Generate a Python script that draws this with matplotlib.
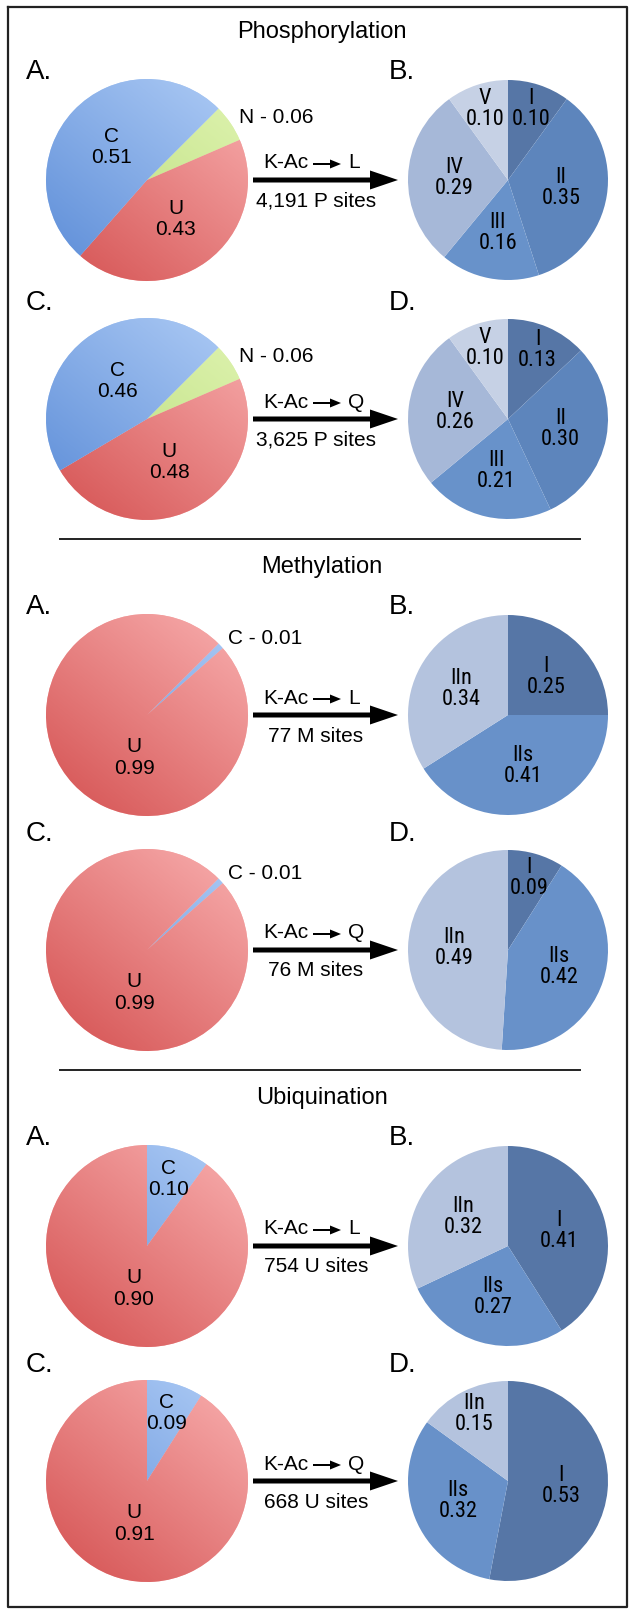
import numpy as np
import matplotlib
matplotlib.use('Agg')
import matplotlib.pyplot as plt
from matplotlib import font_manager
from matplotlib.colors import LinearSegmentedColormap

W, H = 630, 1611

# ---- data ----
sections = ['Phosphorylation', 'Methylation', 'Ubiquination']
panel_letters = [('A.', 'B.'), ('C.', 'D.')]
mutations = ['L', 'Q']
site_labels = ['4,191 P sites', '3,625 P sites',
               '77 M sites', '76 M sites',
               '754 U sites', '668 U sites']

# left pies (localisation)
phos_loc = ['N', 'U', 'C']
phos_l_loc = [0.06, 0.43, 0.51]
phos_q_loc = [0.06, 0.48, 0.46]
meth_loc = ['C', 'U']
meth_l_loc = [0.01, 0.99]
meth_q_loc = [0.01, 0.99]
ubiq_loc = ['C', 'U']
ubiq_l_loc = [0.10, 0.90]
ubiq_q_loc = [0.09, 0.91]

# right pies (classes)
phos_class = ['I', 'II', 'III', 'IV', 'V']
phos_l_class = [0.10, 0.35, 0.16, 0.29, 0.10]
phos_q_class = [0.13, 0.30, 0.21, 0.26, 0.10]
mu_class = ['I', 'IIs', 'IIn']
meth_l_class = [0.25, 0.41, 0.34]
meth_q_class = [0.09, 0.42, 0.49]
ubiq_l_class = [0.41, 0.27, 0.32]
ubiq_q_class = [0.53, 0.32, 0.15]

loc_colors = {'C': ('#5a8bd7', '#b0cdf6'),
              'U': ('#d45050', '#f9b0b0'),
              'N': ('#b5da74', '#e0f4b2')}
class_colors = {'I': '#5676a6', 'II': '#5d85bc', 'III': '#6892ca',
                'IV': '#a6b8d8', 'V': '#c6d1e5',
                'IIs': '#6891c9', 'IIn': '#b4c3de'}

rows = [
    (phos_loc, phos_l_loc, phos_class, phos_l_class, 45),
    (phos_loc, phos_q_loc, phos_class, phos_q_class, 45),
    (meth_loc, meth_l_loc, mu_class, meth_l_class, 45),
    (meth_loc, meth_q_loc, mu_class, meth_q_class, 45),
    (ubiq_loc, ubiq_l_loc, mu_class, ubiq_l_class, 90),
    (ubiq_loc, ubiq_q_loc, mu_class, ubiq_q_class, 90),
]

# ---- layout (pixels, image coords: y down) ----
row_y = [180, 419, 715, 950, 1246, 1481]
left_x, right_x = 147, 508
R = 101

# narrow face for the class labels if one is around
installed = {f.name for f in font_manager.fontManager.ttflist}
SANS = 'Liberation Sans'
NARROW, narrow_size = SANS, 14
for cand in ['Liberation Sans Narrow', 'Arial Narrow', 'Roboto Condensed']:
    if cand in installed:
        NARROW, narrow_size = cand, 16
        break

fig = plt.figure(figsize=(W / 100, H / 100), dpi=100)
ax = fig.add_axes([0, 0, 1, 1])


def Y(y):
    return H - y


def label_pos(cx, cy, ang, d):
    a = np.deg2rad(ang)
    return cx + d * np.cos(a), Y(cy) + d * np.sin(a)


yy, xx = np.mgrid[0:1:200j, 0:1:200j]
grad = (xx * 0.9 + yy * 1.1) / 2

for i, (lnames, lvals, rnames, rvals, lstart) in enumerate(rows):
    cy = row_y[i]

    # left pie, gradient fill clipped to each wedge
    wedges, _ = ax.pie(lvals, center=(left_x, Y(cy)), radius=R,
                       startangle=lstart, counterclock=False,
                       colors=[loc_colors[n][1] for n in lnames],
                       wedgeprops=dict(linewidth=0))
    for w, n, v in zip(wedges, lnames, lvals):
        cmap = LinearSegmentedColormap.from_list(n, loc_colors[n])
        im = ax.imshow(grad, extent=(left_x - R, left_x + R, Y(cy) - R, Y(cy) + R),
                       origin='lower', cmap=cmap, vmin=0, vmax=1,
                       interpolation='bilinear', zorder=1.5)
        im.set_clip_path(w)
        mid = (w.theta1 + w.theta2) / 2
        if v < 0.07:
            x, y = label_pos(left_x, cy, mid, R * 1.1)
            ax.text(x, y, f'{n} - {v:.2f}', ha='left', va='center',
                    fontsize=15, family=SANS, zorder=5)
        else:
            if v > 0.85:
                mid, d = -107, R * 0.44
            else:
                d = R * (0.70 if v < 0.2 else 0.48)
            x, y = label_pos(left_x, cy, mid, d)
            ax.text(x, y, f'{n}\n{v:.2f}', ha='center', va='center',
                    fontsize=15, family=SANS, linespacing=1.15, zorder=5)

    # right pie
    wedges, _ = ax.pie(rvals, center=(right_x, Y(cy)), radius=R - 1,
                       startangle=90, counterclock=False,
                       colors=[class_colors[n] for n in rnames],
                       wedgeprops=dict(linewidth=0))
    for w, n, v in zip(wedges, rnames, rvals):
        d = R * (0.74 if v < 0.16 else 0.53)
        x, y = label_pos(right_x, cy, (w.theta1 + w.theta2) / 2, d)
        ax.text(x, y, f'{n}\n{v:.2f}', ha='center', va='center',
                fontsize=narrow_size, family=NARROW, linespacing=1.0, zorder=5)

    # panel letters
    k = i % 2
    ly = cy - (108 if k == 0 else 116)
    ax.text(26, Y(ly), panel_letters[k][0], ha='left', va='center',
            fontsize=20, family=SANS)
    ax.text(389, Y(ly), panel_letters[k][1], ha='left', va='center',
            fontsize=20, family=SANS)

    # arrow and captions
    ax.arrow(253, Y(cy), 145, 0, width=5, head_width=19, head_length=28,
             length_includes_head=True, fc='black', ec='black', lw=0)
    ax.text(308, Y(cy - 17), 'K-Ac', ha='right', va='center',
            fontsize=15, family=SANS)
    ax.arrow(313, Y(cy - 16), 28, 0, width=2, head_width=9, head_length=11,
             length_includes_head=True, fc='black', ec='black', lw=0)
    ax.text(348, Y(cy - 17), mutations[k], ha='left', va='center',
            fontsize=15, family=SANS)
    ax.text(316, Y(cy + 21), site_labels[i], ha='center', va='center',
            fontsize=15, family=SANS)

# section titles and separators
for s, name in enumerate(sections):
    ty = row_y[2 * s] - 148
    ax.text(322, Y(ty), name, ha='center', va='center', fontsize=17, family=SANS)
    if s > 0:
        ax.plot([60, 580], [Y(ty - 28), Y(ty - 28)], color='#222222', lw=1.4)

# outer frame
fx = [8, 627, 627, 8, 8]
fy = [7, 7, 1607, 1607, 7]
ax.plot(fx, [Y(v) for v in fy], color='#222222', lw=1.6)

ax.set_xlim(0, W)
ax.set_ylim(0, H)
ax.set_aspect('auto')
ax.axis('off')

fig.savefig('out.png', dpi=100)
